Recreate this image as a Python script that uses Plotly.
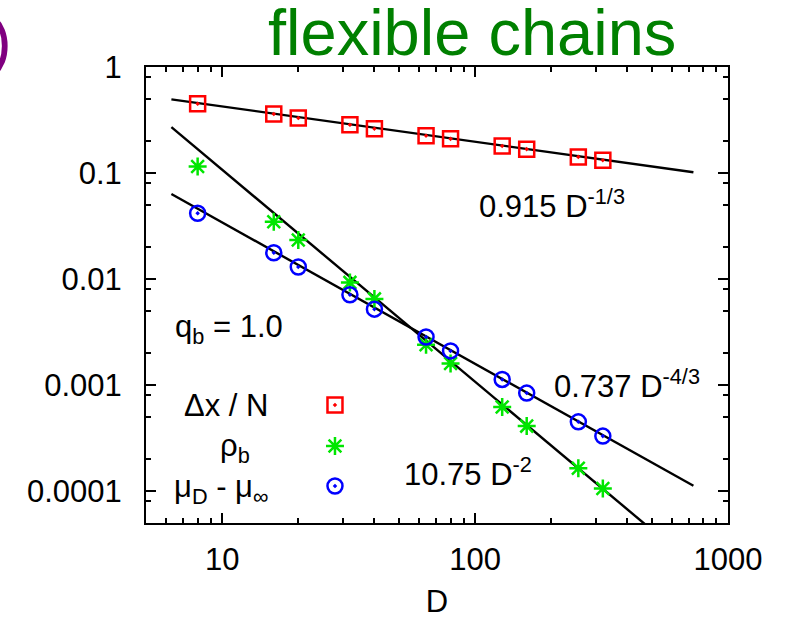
import numpy as np
import plotly.graph_objects as go

# ---- data ----
D = [8, 16, 20, 32, 40, 64, 80, 128, 160, 256, 320]
dx_over_N = [0.45, 0.36, 0.33, 0.285, 0.262, 0.225, 0.21, 0.18, 0.168, 0.142, 0.132]
rho_b = [0.115, 0.0347, 0.0233, 0.0093, 0.0065, 0.0024, 0.0016, 0.00062, 0.00041, 0.000164, 0.000106]
mu_diff = [0.0417, 0.0177, 0.013, 0.0071, 0.0052, 0.00284, 0.0021, 0.00113, 0.00084, 0.00045, 0.00033]

fit_D_range = [6.3, 730]
fit_coef = {"dx": 0.915, "rho": 10.75, "mu": 0.737}
fit_exp = {"dx": -1 / 3, "rho": -2.0, "mu": -4 / 3}

x_tickvals = [10, 100, 1000]
x_ticktext = ["10", "100", "1000"]
y_tickvals = [1, 0.1, 0.01, 0.001, 0.0001]
y_ticktext = ["1", "0.1", "0.01", "0.001", "0.0001"]
x_minor = [m * 10 ** k for k in range(0, 3) for m in range(2, 10)]
y_minor = [m * 10 ** k for k in range(-5, 0) for m in (2, 5, 8)]

legend_labels = ["\u0394x / N", "\u03c1<sub>b</sub>", "\u03bc<sub>D</sub> - \u03bc<sub>\u221e</sub>"]
legend_key_x = [0.3247, 0.3247, 0.3247]
legend_key_y = [0.2588, 0.1689, 0.0811]

FONT = "Liberation Sans, Arial, sans-serif"
RED = "#ff0000"
GREEN = "#00e600"
BLUE = "#0000ff"

fig = go.Figure()

xf = np.array(fit_D_range, dtype=float)
for key in ["dx", "rho", "mu"]:
    fig.add_trace(go.Scatter(x=xf, y=fit_coef[key] * xf ** fit_exp[key], mode="lines",
                             line=dict(color="black", width=2.4), showlegend=False,
                             hoverinfo="skip"))

fig.add_trace(go.Scatter(x=D, y=dx_over_N, mode="markers", showlegend=False,
                         marker=dict(symbol="square-open-dot", size=15, color=RED,
                                     line=dict(width=2.5, color=RED))))
fig.add_trace(go.Scatter(x=D, y=rho_b, mode="markers", showlegend=False,
                         marker=dict(symbol="asterisk-open", size=15, color=GREEN,
                                     line=dict(width=2.5, color=GREEN))))
fig.add_trace(go.Scatter(x=D, y=mu_diff, mode="markers", showlegend=False,
                         marker=dict(symbol="circle-open-dot", size=15, color=BLUE,
                                     line=dict(width=2.5, color=BLUE))))

# legend keys on an overlay axis
for sym, col, lx, ly in zip(["square-open-dot", "asterisk-open", "circle-open-dot"],
                            [RED, GREEN, BLUE], legend_key_x, legend_key_y):
    fig.add_trace(go.Scatter(x=[lx], y=[ly], mode="markers", xaxis="x2", yaxis="y2",
                             showlegend=False, hoverinfo="skip",
                             marker=dict(symbol=sym, size=15, color=col,
                                         line=dict(width=2.5, color=col))))

tickfont = dict(family=FONT, size=31, color="black")
fig.update_layout(
    width=791, height=619,
    margin=dict(l=146, r=63, t=67, b=96),
    paper_bgcolor="white", plot_bgcolor="white",
    font=dict(family=FONT, size=31, color="black"),
    xaxis=dict(type="log", range=[np.log10(5), 3], automargin=False,
               tickvals=x_tickvals, ticktext=x_ticktext, tickfont=tickfont,
               ticks="inside", ticklen=10, tickwidth=1.5, tickcolor="black",
               minor=dict(tickvals=x_minor, ticks="inside", ticklen=5, tickwidth=1.5, tickcolor="black", showgrid=False),
               showline=True, linecolor="black", linewidth=2, mirror="ticks",
               showgrid=False, zeroline=False, ticklabelstandoff=8,
               title=dict(text="D", font=dict(family=FONT, size=31), standoff=19)),
    yaxis=dict(type="log", range=[np.log10(5e-5), 0], automargin=False,
               tickvals=y_tickvals, ticktext=y_ticktext, tickfont=tickfont,
               ticks="inside", ticklen=10, tickwidth=1.5, tickcolor="black",
               minor=dict(tickvals=y_minor, ticks="inside", ticklen=5, tickwidth=1.5, tickcolor="black", showgrid=False),
               showline=True, linecolor="black", linewidth=2, mirror="ticks",
               showgrid=False, zeroline=False, ticklabelstandoff=16),
    xaxis2=dict(overlaying="x", range=[0, 1], visible=False),
    yaxis2=dict(overlaying="y", range=[0, 1], visible=False),
)

ann = [
    dict(text="flexible chains", x=0.560, y=1.0746, font=dict(size=65, color="#008000"),
         xanchor="center", yanchor="middle"),
    dict(text=")", x=-0.2715, y=1.058, font=dict(size=65, color="#800080"),
         xanchor="left", yanchor="middle"),
    dict(text="0.915 D<sup>-1/3</sup>", x=0.5687, y=0.6996, xanchor="left", yanchor="middle"),
    dict(text="0.737 D<sup>-4/3</sup>", x=0.6976, y=0.3048, xanchor="left", yanchor="middle"),
    dict(text="10.75 D<sup>-2</sup>", x=0.4399, y=0.1118, xanchor="left", yanchor="middle"),
    dict(text="q<sub>b</sub> = 1.0", x=0.0464, y=0.4254, xanchor="left", yanchor="middle"),
    dict(text=legend_labels[0], x=0.2131, y=0.2566, xanchor="right", yanchor="middle"),
    dict(text=legend_labels[1], x=0.1821, y=0.165, xanchor="right", yanchor="middle"),
    dict(text=legend_labels[2], x=0.2131, y=0.075, xanchor="right", yanchor="middle"),
]
for a in ann:
    a.setdefault("font", dict())
    a["font"].setdefault("size", 31)
    a["font"]["family"] = FONT
    fig.add_annotation(xref="paper", yref="paper", showarrow=False, **a)

fig.write_html("out.html")
